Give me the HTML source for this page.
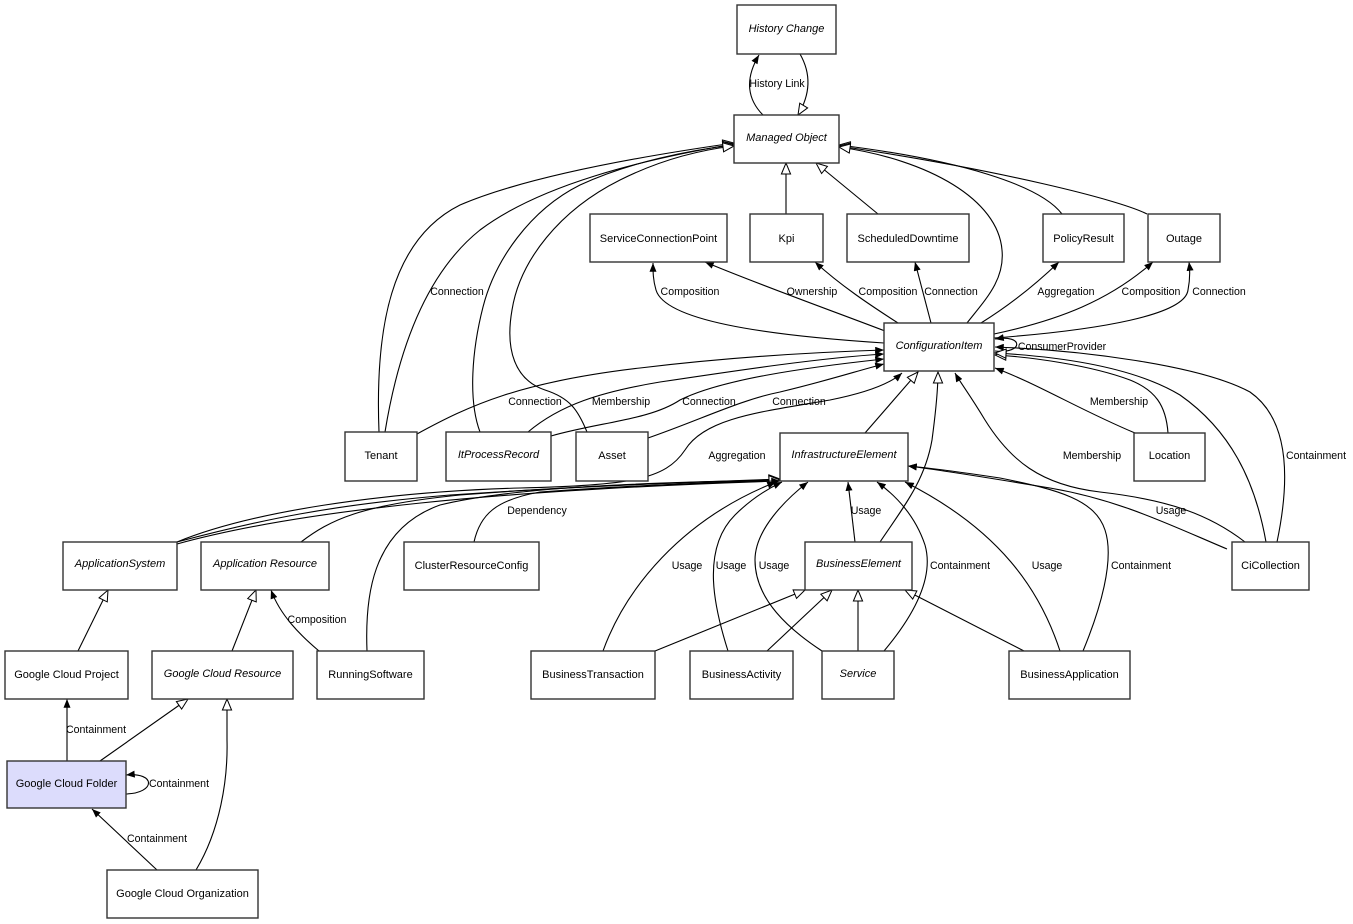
<!DOCTYPE html>
<html><head><meta charset="utf-8">
<style>
html,body{margin:0;padding:0;background:#fff;}
svg{display:block;}
text{font-family:"Liberation Sans",Arial,sans-serif;font-size:11px;fill:#000;}
.n{text-anchor:middle;}
.i{font-style:italic;}
.l{text-anchor:middle;font-size:10.6px;}
rect{fill:#fff;stroke:#333;stroke-width:1.4;}
path.e{fill:none;stroke:#000;stroke-width:1.1;}
</style></head>
<body>
<svg width="1353" height="924" viewBox="0 0 1353 924" xmlns="http://www.w3.org/2000/svg">
<defs>
<marker id="f" viewBox="0 0 10 8" refX="10" refY="4" markerWidth="9" markerHeight="7" markerUnits="userSpaceOnUse" orient="auto">
<path d="M0,0 L10,4 L0,8 z" fill="#000"/>
</marker>
<marker id="h" viewBox="0 0 14 12" refX="13" refY="6" markerWidth="13" markerHeight="11" markerUnits="userSpaceOnUse" orient="auto">
<path d="M1,1 L13,6 L1,11 z" fill="#fff" stroke="#000" stroke-width="1.1"/>
</marker>
</defs>

<!-- edges -->
<g>
<path class="e" d="M763,115 C748,100 744,80 759,55" marker-end="url(#f)"/>
<path class="e" d="M800,54 C812,75 810,95 798,115" marker-end="url(#h)"/>
<path class="e" d="M786,214 L786,163" marker-end="url(#h)"/>
<path class="e" d="M878,214 L816,163" marker-end="url(#h)"/>

<path class="e" d="M379,432 C375,330 390,240 460,205 C530,175 650,155 734,143" marker-end="url(#h)"/>
<path class="e" d="M385,432 C400,340 430,270 480,230 C540,185 640,160 734,144" marker-end="url(#h)"/>
<path class="e" d="M480,432 C468,400 472,350 483,307 C495,260 530,210 580,185 C630,162 690,150 734,145" marker-end="url(#h)"/>
<path class="e" d="M587,432 C578,410 570,398 545,390 C515,380 505,350 512,310 C520,260 560,210 620,180 C660,160 700,150 734,146" marker-end="url(#h)"/>

<path class="e" d="M1062,214 C1040,185 960,160 839,145" marker-end="url(#h)"/>
<path class="e" d="M1147,214 C1120,200 1000,170 839,146" marker-end="url(#h)"/>
<path class="e" d="M967,323 C985,300 1005,280 1002,250 C998,200 930,160 839,147" marker-end="url(#h)"/>

<path class="e" d="M884,343 C760,335 665,320 656,290 C653,280 653,272 653,263" marker-end="url(#f)"/>
<path class="e" d="M885,331 C830,310 760,285 705,262" marker-end="url(#f)"/>
<path class="e" d="M898,323 C870,305 840,285 815,262" marker-end="url(#f)"/>
<path class="e" d="M931,323 L915,262" marker-end="url(#f)"/>
<path class="e" d="M981,323 C1010,305 1035,285 1059,262" marker-end="url(#f)"/>
<path class="e" d="M994,334 C1060,320 1110,300 1153,262" marker-end="url(#f)"/>
<path class="e" d="M994,338 C1100,330 1185,315 1188,290 C1190,280 1190,270 1189,262" marker-end="url(#f)"/>
<path class="e" d="M995,351 C1024,354 1024,334 995,339" marker-end="url(#f)"/>

<path class="e" d="M417,434 C470,405 520,382 640,368 C740,356 820,352 884,350" marker-end="url(#f)"/>
<path class="e" d="M528,432 C560,405 600,392 660,382 C740,370 820,358 884,354" marker-end="url(#f)"/>
<path class="e" d="M551,436 C600,422 650,420 680,400 C720,380 800,368 884,359" marker-end="url(#f)"/>
<path class="e" d="M648,438 C700,420 740,400 780,392 C830,380 860,370 884,364" marker-end="url(#f)"/>
<path class="e" d="M177,542 C250,512 380,492 520,488 C630,485 665,480 685,450 C705,418 760,412 830,400 C870,392 892,382 902,373" marker-end="url(#f)"/>

<path class="e" d="M177,542 C260,520 330,505 450,495 C600,485 700,482 780,479" marker-end="url(#h)"/>
<path class="e" d="M177,544 C300,510 500,490 780,481" marker-end="url(#f)"/>
<path class="e" d="M301,542 C330,520 360,505 460,495 C600,484 700,482 780,480" marker-end="url(#h)"/>
<path class="e" d="M367,651 C365,600 370,530 440,505 C520,485 680,482 780,480" marker-end="url(#h)"/>
<path class="e" d="M474,542 C480,515 495,500 540,492 C640,485 720,482 780,481" marker-end="url(#f)"/>
<path class="e" d="M603,651 C625,590 680,520 776,482" marker-end="url(#f)"/>
<path class="e" d="M728,651 C715,610 700,550 735,515 C750,500 765,490 782,482" marker-end="url(#f)"/>
<path class="e" d="M822,651 C790,630 755,600 755,560 C755,530 785,500 808,482" marker-end="url(#f)"/>
<path class="e" d="M855,542 L848,482" marker-end="url(#f)"/>
<path class="e" d="M884,651 C910,620 935,580 925,545 C915,515 895,495 877,482" marker-end="url(#f)"/>
<path class="e" d="M1060,651 C1040,590 1000,530 905,482" marker-end="url(#f)"/>
<path class="e" d="M1083,651 C1100,610 1115,560 1105,530 C1095,500 1060,490 1000,478 C960,472 930,468 908,466" marker-end="url(#f)"/>
<path class="e" d="M1227,549 C1170,525 1120,500 1050,488 C990,478 940,470 908,466" marker-end="url(#f)"/>

<path class="e" d="M880,542 C905,505 925,480 932,440 C936,410 938,390 938,372" marker-end="url(#h)"/>
<path class="e" d="M865,433 L918,372" marker-end="url(#h)"/>
<path class="e" d="M1245,542 C1210,515 1170,500 1100,492 C1040,485 1010,460 985,420 C970,395 960,382 955,373" marker-end="url(#f)"/>
<path class="e" d="M1135,433 C1080,410 1040,385 995,368" marker-end="url(#f)"/>
<path class="e" d="M1168,433 C1166,405 1155,390 1130,380 C1090,365 1030,357 995,355" marker-end="url(#h)"/>
<path class="e" d="M1266,542 C1255,480 1230,430 1180,395 C1130,365 1050,356 995,353" marker-end="url(#h)"/>
<path class="e" d="M1277,542 C1290,480 1290,420 1250,392 C1200,365 1080,350 995,347" marker-end="url(#f)"/>

<path class="e" d="M655,651 L805,590" marker-end="url(#h)"/>
<path class="e" d="M767,651 L832,590" marker-end="url(#h)"/>
<path class="e" d="M858,651 L858,590" marker-end="url(#h)"/>
<path class="e" d="M1024,651 L905,590" marker-end="url(#h)"/>

<path class="e" d="M78,651 L108,590" marker-end="url(#h)"/>
<path class="e" d="M232,651 L256,590" marker-end="url(#h)"/>
<path class="e" d="M319,651 C300,635 280,615 271,590" marker-end="url(#f)"/>
<path class="e" d="M67,761 L67,699" marker-end="url(#f)"/>
<path class="e" d="M100,761 L188,699" marker-end="url(#h)"/>
<path class="e" d="M126,794 C156,793 156,772 126,775" marker-end="url(#f)"/>
<path class="e" d="M157,870 L92,809" marker-end="url(#f)"/>
<path class="e" d="M196,870 C220,830 228,780 227,740 C227,720 227,710 227,699" marker-end="url(#h)"/>
</g>

<!-- nodes -->
<rect x="737" y="5" width="99" height="49"/><text class="n i" x="786.5" y="32">History Change</text>
<rect x="734" y="115" width="105" height="48"/><text class="n i" x="786.5" y="141">Managed Object</text>
<rect x="590" y="214" width="137" height="48"/><text class="n" x="658.5" y="242">ServiceConnectionPoint</text>
<rect x="750" y="214" width="73" height="48"/><text class="n" x="786.5" y="242">Kpi</text>
<rect x="847" y="214" width="122" height="48"/><text class="n" x="908" y="242">ScheduledDowntime</text>
<rect x="1043" y="214" width="81" height="48"/><text class="n" x="1083.5" y="242">PolicyResult</text>
<rect x="1148" y="214" width="72" height="48"/><text class="n" x="1184" y="242">Outage</text>
<rect x="884" y="323" width="110" height="48"/><text class="n i" x="939" y="349">ConfigurationItem</text>
<rect x="345" y="432" width="72" height="49"/><text class="n" x="381" y="459">Tenant</text>
<rect x="446" y="432" width="105" height="49"/><text class="n i" x="498.5" y="458">ItProcessRecord</text>
<rect x="576" y="432" width="72" height="49"/><text class="n" x="612" y="459">Asset</text>
<rect x="780" y="433" width="128" height="48"/><text class="n i" x="844" y="458">InfrastructureElement</text>
<rect x="1134" y="433" width="71" height="48"/><text class="n" x="1169.5" y="459">Location</text>
<rect x="63" y="542" width="114" height="48"/><text class="n i" x="120" y="567">ApplicationSystem</text>
<rect x="201" y="542" width="128" height="48"/><text class="n i" x="265" y="567">Application Resource</text>
<rect x="404" y="542" width="135" height="48"/><text class="n" x="471.5" y="569">ClusterResourceConfig</text>
<rect x="805" y="542" width="107" height="48"/><text class="n i" x="858.5" y="567">BusinessElement</text>
<rect x="1232" y="542" width="77" height="48"/><text class="n" x="1270.5" y="569">CiCollection</text>
<rect x="5" y="651" width="123" height="48"/><text class="n" x="66.5" y="678">Google Cloud Project</text>
<rect x="152" y="651" width="141" height="48"/><text class="n i" x="222.5" y="677">Google Cloud Resource</text>
<rect x="317" y="651" width="107" height="48"/><text class="n" x="370.5" y="678">RunningSoftware</text>
<rect x="531" y="651" width="124" height="48"/><text class="n" x="593" y="678">BusinessTransaction</text>
<rect x="690" y="651" width="103" height="48"/><text class="n" x="741.5" y="678">BusinessActivity</text>
<rect x="822" y="651" width="72" height="48"/><text class="n i" x="858" y="677">Service</text>
<rect x="1009" y="651" width="121" height="48"/><text class="n" x="1069.5" y="678">BusinessApplication</text>
<rect x="7" y="761" width="119" height="47" style="fill:#dcdcfc"/><text class="n" x="66.5" y="787">Google Cloud Folder</text>
<rect x="107" y="870" width="151" height="48"/><text class="n" x="182.5" y="897">Google Cloud Organization</text>

<!-- edge labels -->
<text class="l" x="777" y="87">History Link</text>
<text class="l" x="457" y="295">Connection</text>
<text class="l" x="690" y="295">Composition</text>
<text class="l" x="812" y="295">Ownership</text>
<text class="l" x="888" y="295">Composition</text>
<text class="l" x="951" y="295">Connection</text>
<text class="l" x="1066" y="295">Aggregation</text>
<text class="l" x="1151" y="295">Composition</text>
<text class="l" x="1219" y="295">Connection</text>
<text class="l" x="1062" y="350">ConsumerProvider</text>
<text class="l" x="535" y="405">Connection</text>
<text class="l" x="621" y="405">Membership</text>
<text class="l" x="709" y="405">Connection</text>
<text class="l" x="799" y="405">Connection</text>
<text class="l" x="1119" y="405">Membership</text>
<text class="l" x="737" y="459">Aggregation</text>
<text class="l" x="1092" y="459">Membership</text>
<text class="l" x="1316" y="459">Containment</text>
<text class="l" x="537" y="514">Dependency</text>
<text class="l" x="866" y="514">Usage</text>
<text class="l" x="1171" y="514">Usage</text>
<text class="l" x="687" y="569">Usage</text>
<text class="l" x="731" y="569">Usage</text>
<text class="l" x="774" y="569">Usage</text>
<text class="l" x="960" y="569">Containment</text>
<text class="l" x="1047" y="569">Usage</text>
<text class="l" x="1141" y="569">Containment</text>
<text class="l" x="317" y="623">Composition</text>
<text class="l" x="96" y="733">Containment</text>
<text class="l" x="179" y="787">Containment</text>
<text class="l" x="157" y="842">Containment</text>
</svg>
</body></html>
